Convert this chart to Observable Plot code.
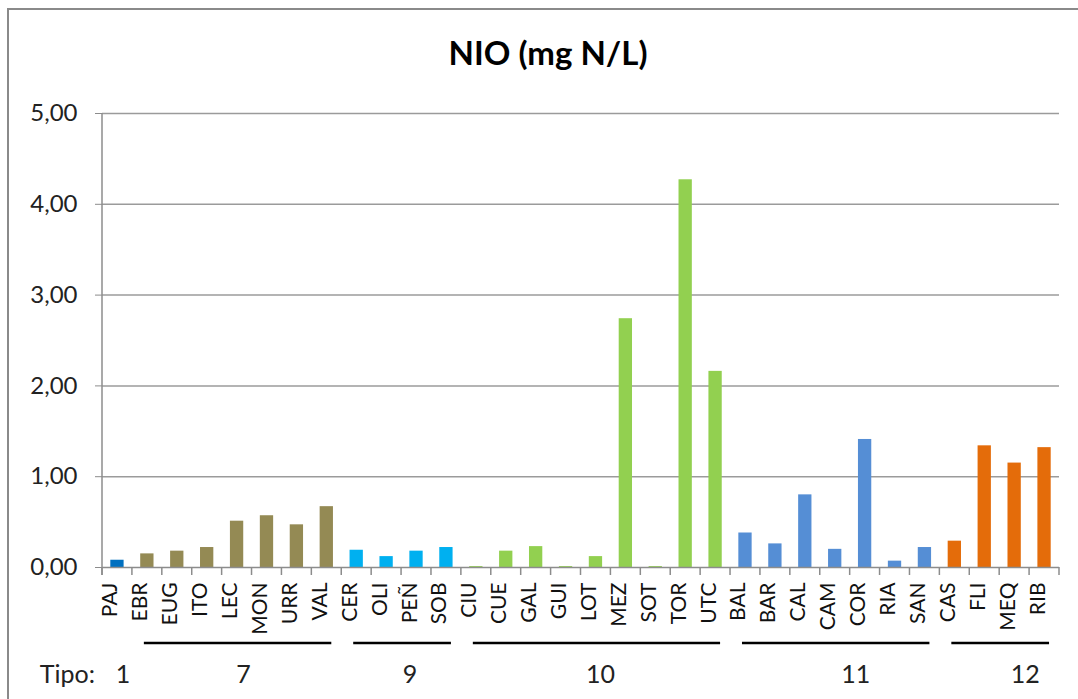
<!DOCTYPE html>
<html><head><meta charset="utf-8">
<script src="https://cdn.jsdelivr.net/npm/d3@7"></script>
<script src="https://cdn.jsdelivr.net/npm/@observablehq/plot@0.6"></script>
<style>
body{margin:0;background:#fff;}
#wrap{position:relative;width:1078px;height:699px;overflow:hidden;font-family:Lato,sans-serif;background:#fff;}
#chart{position:absolute;left:0;top:0;}
#frame{position:absolute;left:7px;top:8px;right:-10px;bottom:-10px;border-left:2px solid #8a8a8a;border-top:2px solid #8a8a8a;pointer-events:none;}
#title{position:absolute;left:0;width:1096px;top:32px;text-align:center;font-weight:bold;font-size:33px;color:#000;line-height:40px;}
</style></head><body>
<div id="wrap"><div id="chart"></div><div id="frame"></div><div id="title">NIO (mg N/L)</div></div>
<script>
const categories = ["PAJ","EBR","EUG","ITO","LEC","MON","URR","VAL","CER","OLI","PEÑ","SOB","CIU","CUE","GAL","GUI","LOT","MEZ","SOT","TOR","UTC","BAL","BAR","CAL","CAM","COR","RIA","SAN","CAS","FLI","MEQ","RIB"];
const values = [0.08,0.15,0.18,0.22,0.51,0.57,0.47,0.67,0.19,0.12,0.18,0.22,0.01,0.18,0.23,0.01,0.12,2.74,0.01,4.27,2.16,0.38,0.26,0.80,0.20,1.41,0.07,0.22,0.29,1.34,1.15,1.32];
const tipos = ["1","7","7","7","7","7","7","7","9","9","9","9","10","10","10","10","10","10","10","10","10","11","11","11","11","11","11","11","12","12","12","12"];
const tipoOrder = ["1","7","9","10","11","12"];
const tipoColors = ["#0070C0","#948A54","#00B0F0","#92D050","#558ED5","#E46C0A"];
const yTicks = [0,1,2,3,4,5];
const tipoLabel = "Tipo:";

const data = categories.map((c,i)=>({cat:c, value:values[i], tipo:tipos[i]}));
const groups = tipoOrder.map(t => {
  const m = data.filter(d => d.tipo === t);
  return {tipo:t, first:m[0].cat, last:m[m.length-1].cat, count:m.length};
});
// small visual shifts of the group labels (layout only)
const labelShift = {"1":6,"7":7,"9":9,"10":5,"11":21,"12":26};

function extras(index, scales, vals, dims) {
  const x = scales.x, y = scales.y;
  const bw = typeof x.bandwidth === "function" ? x.bandwidth() : 0;
  const step = x(categories[1]) - x(categories[0]);
  const c = k => x(k) + bw/2;
  const y0 = y(0);
  const g = d3.create("svg:g");
  g.append("line").attr("x1", dims.marginLeft).attr("x2", dims.marginLeft)
    .attr("y1", y(5)).attr("y2", y0 + 8).attr("stroke", "#8c8c8c").attr("stroke-width", 1.5);
  const bounds = categories.map(k => c(k) - step/2).concat([c(categories[categories.length-1]) + step/2]);
  for (const b of bounds) {
    g.append("line").attr("x1", b).attr("x2", b).attr("y1", y0).attr("y2", y0 + 8)
      .attr("stroke", "#8c8c8c").attr("stroke-width", 1.5);
  }
  for (const gr of groups) {
    const a = c(gr.first), b = c(gr.last);
    if (gr.count > 1) {
      g.append("line").attr("x1", a - 3).attr("x2", b + 5).attr("y1", y0 + 76).attr("y2", y0 + 76)
        .attr("stroke", "#000").attr("stroke-width", 2.6);
    }
    g.append("text").attr("x", (a + b)/2 + labelShift[gr.tipo]).attr("y", y0 + 110)
      .attr("text-anchor", "middle").attr("dominant-baseline", "middle")
      .attr("font-size", 25).attr("fill", "#222").text(gr.tipo);
  }
  g.append("text").attr("x", dims.marginLeft - 7).attr("y", y0 + 110)
    .attr("text-anchor", "end").attr("dominant-baseline", "middle")
    .attr("font-size", 25).attr("fill", "#222").text(tipoLabel);
  return g.node();
}

const chart = Plot.plot({
  width: 1078, height: 699,
  marginLeft: 102, marginRight: 19, marginTop: 113, marginBottom: 132,
  x: {type: "band", domain: categories, paddingInner: 0.555, paddingOuter: 0.2775, round: false, axis: null},
  y: {domain: [0, 5], axis: null},
  color: {domain: tipoOrder, range: tipoColors},
  style: {fontFamily: "Lato, sans-serif", background: "transparent"},
  marks: [
    Plot.gridY(yTicks.slice(1), {stroke: "#9b9b9b", strokeOpacity: 1, strokeWidth: 1.5}),
    Plot.axisY(yTicks, {tickSize: 7, tickPadding: 18, tickFormat: d => d.toFixed(2).replace(".", ","),
      fontSize: 24, fill: "#222", stroke: "#8c8c8c", label: null}),
    Plot.barY(data, {x: "cat", y: "value", fill: "tipo"}),
    Plot.ruleY([0], {stroke: "#8c8c8c", strokeWidth: 1.5}),
    Plot.text(data, {x: "cat", frameAnchor: "bottom", dy: 15, text: "cat", rotate: -90,
      textAnchor: "end", fontSize: 21, fill: "#111"}),
    extras
  ]
});
document.getElementById("chart").append(chart);
</script>
</body></html>
